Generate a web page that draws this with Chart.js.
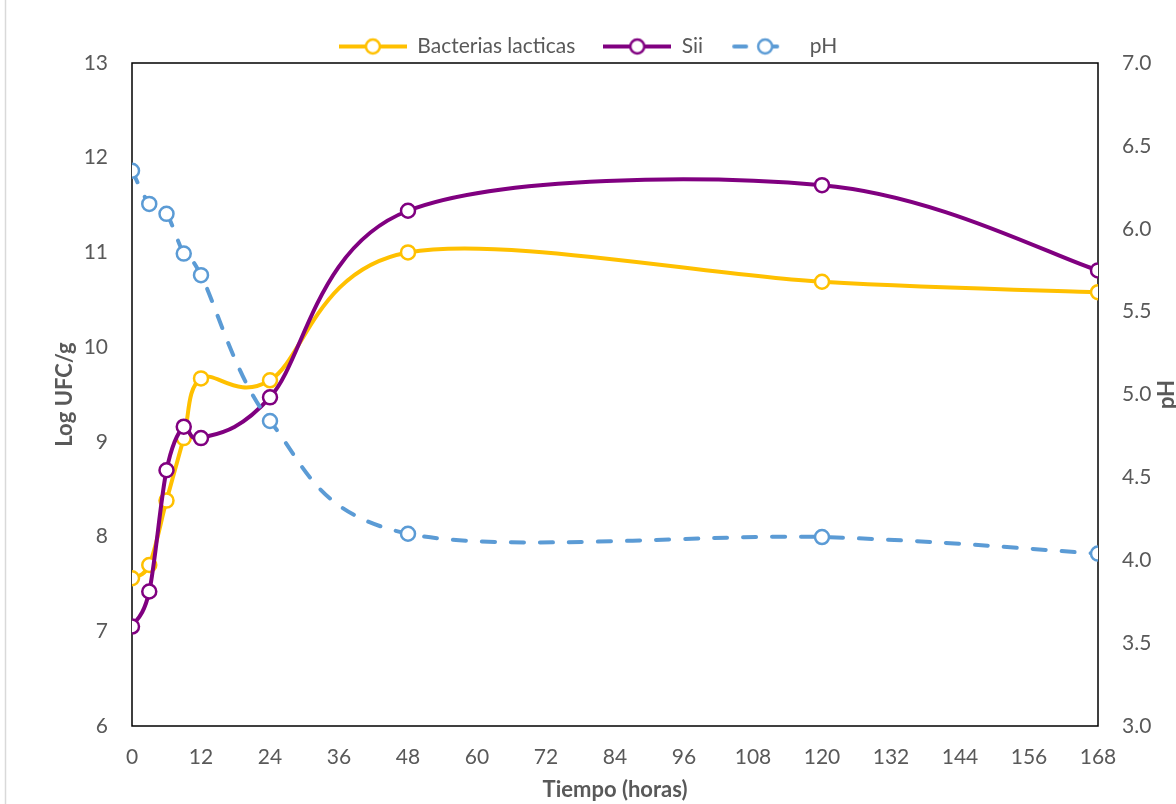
<!DOCTYPE html>
<html>
<head>
<meta charset="utf-8">
<title>Bacterias lacticas, Sii y pH</title>
<script src="https://cdn.jsdelivr.net/npm/chart.js@4.4.1/dist/chart.umd.min.js"></script>
<style>
  html, body { margin: 0; padding: 0; background: #fff; }
  #wrap { width: 1176px; height: 804px; }
</style>
</head>
<body>
<div id="wrap"><canvas id="growthChart" width="1176" height="804"></canvas></div>
<script>
// Sampling times (hours)
const hours = [0, 3, 6, 9, 12, 24, 48, 120, 168];

// Log UFC/g
const bacteriasLacticas = [7.56, 7.70, 8.38, 9.04, 9.67, 9.65, 11.00, 10.69, 10.58];
const sii = [7.05, 7.42, 8.70, 9.16, 9.04, 9.47, 11.44, 11.71, 10.81];

// pH
const ph = [6.35, 6.15, 6.09, 5.85, 5.72, 4.84, 4.16, 4.14, 4.04];

// Axis ticks
const xTicks = [0, 12, 24, 36, 48, 60, 72, 84, 96, 108, 120, 132, 144, 156, 168];
const ufcTicks = [6, 7, 8, 9, 10, 11, 12, 13];
const phTicks = [3.0, 3.5, 4.0, 4.5, 5.0, 5.5, 6.0, 6.5, 7.0];

// Colors
const colors = {
    bacterias: '#FFC000',
    sii: '#800080',
    ph: '#5B9BD5',
    text: '#595959'
};

const FONT = 'Lato, "Open Sans", sans-serif';
const TEXT_SIZE = 21;
const TITLE_SIZE = 22;
Chart.defaults.font.family = FONT;
Chart.defaults.font.size = TEXT_SIZE;
Chart.defaults.color = colors.text;

const toPoints = values => hours.map((h, i) => ({ x: h, y: values[i] }));
const setTicks = list => scale => { scale.ticks = list.map(v => ({ value: v })); };

// Legend swatch: line with an open circle marker
function legendSample(color, dashed) {
    const c = document.createElement('canvas');
    c.width = 68;
    c.height = 20;
    const g = c.getContext('2d');
    g.strokeStyle = color;
    g.lineWidth = 4;
    g.beginPath();
    if (dashed) {
        g.lineCap = 'round';
        g.moveTo(3, 10); g.lineTo(15, 10);
        g.moveTo(42, 10); g.lineTo(46, 10);
    } else {
        g.moveTo(0, 10); g.lineTo(68, 10);
    }
    g.stroke();
    g.beginPath();
    g.arc(34, 10, 7, 0, Math.PI * 2);
    g.fillStyle = '#fff';
    g.fill();
    g.lineWidth = 2.5;
    g.stroke();
    return c;
}
const legendSamples = [
    legendSample(colors.bacterias, false),
    legendSample(colors.sii, false),
    legendSample(colors.ph, true)
];

// Smooth lines: uniform Catmull-Rom control points (1/6 of neighbour span)
const smoothLines = {
    id: 'smoothLines',
    beforeDatasetDraw(chart, args) {
        const line = args.meta.dataset;
        const pts = args.meta.data;
        line.updateControlPoints(chart.chartArea, 'x');
        pts.forEach((p, i) => {
            const prev = pts[Math.max(i - 1, 0)];
            const next = pts[Math.min(i + 1, pts.length - 1)];
            const dx = (next.x - prev.x) / 6;
            const dy = (next.y - prev.y) / 6;
            p.cp1x = p.x - dx; p.cp1y = p.y - dy;
            p.cp2x = p.x + dx; p.cp2y = p.y + dy;
        });
        line._path = undefined;
    }
};

// Plot frame, outer border and the rotated pH title
const frame = {
    id: 'frame',
    beforeDatasetsDraw(chart) {
        const { ctx, chartArea: a } = chart;
        ctx.save();
        ctx.strokeStyle = '#d9d9d9';
        ctx.lineWidth = 1.5;
        ctx.beginPath();
        ctx.moveTo(5.5, 0);
        ctx.lineTo(5.5, chart.height);
        ctx.stroke();
        ctx.strokeStyle = '#000';
        ctx.lineWidth = 1.5;
        ctx.strokeRect(a.left, a.top, a.right - a.left, a.bottom - a.top);
        ctx.translate(1167, (a.top + a.bottom) / 2);
        ctx.rotate(-Math.PI / 2);
        ctx.fillStyle = colors.text;
        ctx.font = 'bold ' + TITLE_SIZE + 'px ' + FONT;
        ctx.textAlign = 'center';
        ctx.textBaseline = 'middle';
        ctx.fillText('pH', 0, 0);
        ctx.restore();
    }
};

// Fixed legend band height
const legendHeight = {
    id: 'legendHeight',
    beforeInit(chart) {
        const fit = chart.legend.fit;
        chart.legend.fit = function () {
            fit.call(this);
            this.height = 55;
        };
    }
};

const ctx = document.getElementById('growthChart').getContext('2d');
const growthChart = new Chart(ctx, {
    type: 'line',
    data: {
        datasets: [
            {
                label: 'Bacterias lacticas',
                data: toPoints(bacteriasLacticas),
                yAxisID: 'y',
                borderColor: colors.bacterias,
                backgroundColor: '#fff',
                borderWidth: 4,
                pointRadius: 7,
                pointBorderWidth: 2.5,
                pointBackgroundColor: '#fff',
                pointBorderColor: colors.bacterias,
                tension: 0.4,
                order: 3
            },
            {
                label: 'Sii',
                data: toPoints(sii),
                yAxisID: 'y',
                borderColor: colors.sii,
                backgroundColor: '#fff',
                borderWidth: 4,
                pointRadius: 7,
                pointBorderWidth: 2.5,
                pointBackgroundColor: '#fff',
                pointBorderColor: colors.sii,
                tension: 0.4,
                order: 2
            },
            {
                label: 'pH',
                data: toPoints(ph),
                yAxisID: 'y1',
                borderColor: colors.ph,
                backgroundColor: '#fff',
                borderWidth: 4,
                borderDash: [13, 16],
                borderCapStyle: 'round',
                pointRadius: 7,
                pointBorderWidth: 2.5,
                pointBackgroundColor: '#fff',
                pointBorderColor: colors.ph,
                tension: 0.4,
                order: 1
            }
        ]
    },
    options: {
        responsive: false,
        animation: false,
        layout: {
            padding: { top: 8, left: 0, right: 0, bottom: 0 }
        },
        plugins: {
            legend: {
                position: 'top',
                align: 'center',
                labels: {
                    usePointStyle: true,
                    pointStyleWidth: 68,
                    padding: 28,
                    color: colors.text,
                    font: { size: TEXT_SIZE },
                    sort: (a, b) => a.datasetIndex - b.datasetIndex,
                    generateLabels(chart) {
                        const items = Chart.defaults.plugins.legend.labels.generateLabels(chart);
                        items.forEach(it => { it.pointStyle = legendSamples[it.datasetIndex]; });
                        return items;
                    }
                }
            },
            tooltip: { enabled: false }
        },
        scales: {
            x: {
                type: 'linear',
                min: 0,
                max: 168,
                afterBuildTicks: setTicks(xTicks),
                afterFit: s => { s.height = 78; },
                grid: { display: false, drawTicks: false },
                border: { display: false },
                ticks: { padding: 19, font: { size: TEXT_SIZE } },
                title: {
                    display: true,
                    text: 'Tiempo (horas)',
                    font: { size: TITLE_SIZE, weight: 'bold' },
                    padding: { top: 0, bottom: 1 }
                }
            },
            y: {
                position: 'left',
                min: 6,
                max: 13,
                afterBuildTicks: setTicks(ufcTicks),
                afterFit: s => { s.width = 132; },
                grid: { display: false, drawTicks: false },
                border: { display: false },
                ticks: { padding: 24, font: { size: TEXT_SIZE } },
                title: {
                    display: true,
                    text: 'Log UFC/g',
                    font: { size: TITLE_SIZE, weight: 'bold' },
                    padding: { top: 52, bottom: 0 }
                }
            },
            y1: {
                position: 'right',
                min: 3,
                max: 7,
                afterBuildTicks: setTicks(phTicks),
                afterFit: s => { s.width = 78; },
                grid: { display: false, drawTicks: false },
                border: { display: false },
                ticks: {
                    padding: 24,
                    font: { size: TEXT_SIZE },
                    callback: v => v.toFixed(1)
                }
            }
        }
    },
    plugins: [legendHeight, frame, smoothLines]
});
</script>
</body>
</html>
